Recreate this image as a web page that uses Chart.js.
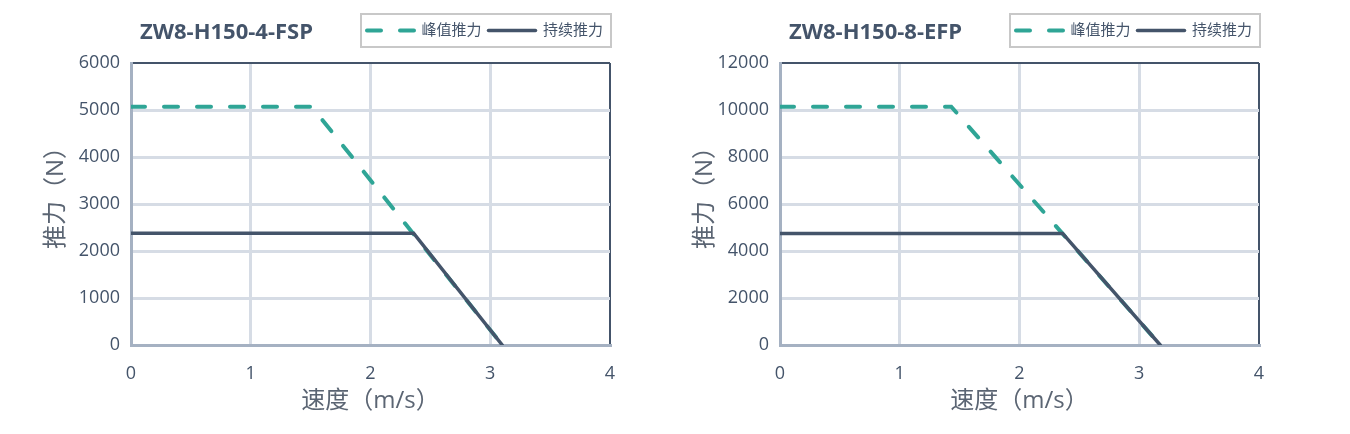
<!DOCTYPE html>
<html>
<head>
<meta charset="utf-8">
<script src="https://cdn.jsdelivr.net/npm/chart.js@4.4.1/dist/chart.umd.min.js"></script>
<style>
    body { margin: 0; background: #fff; }
    .panel { position: absolute; top: 0; width: 650px; height: 434px; }
    .panel canvas { position: absolute; left: 0; top: 0; }
    .title {
        position: absolute; left: 140px; top: 19px;
        font-family: 'Open Sans', 'Noto Sans CJK SC', sans-serif;
        font-weight: bold; font-size: 22px; line-height: 22px;
        color: #44546a; white-space: nowrap;
    }
</style>
</head>
<body>
<div class="panel" style="left:0px">
    <canvas id="chart1" width="650" height="434"></canvas>
    <div class="title">ZW8-H150-4-FSP</div>
</div>
<div class="panel" style="left:649px">
    <canvas id="chart2" width="650" height="434"></canvas>
    <div class="title">ZW8-H150-8-EFP</div>
</div>
<script>
// series names
const seriesNames = ['峰值推力', '持续推力'];

// ZW8-H150-4-FSP
const peakSpeed1 = [0, 1.51, 3.1];
const peakForce1 = [5070, 5070, 0];
const contSpeed1 = [0, 1.51, 2.36, 3.1];
const contForce1 = [2380, 2380, 2380, 0];
const yTicks1 = [0, 1000, 2000, 3000, 4000, 5000, 6000];

// ZW8-H150-8-EFP
const peakSpeed2 = [0, 1.43, 3.175];
const peakForce2 = [10140, 10140, 0];
const contSpeed2 = [0, 1.43, 2.36, 3.175];
const contForce2 = [4750, 4750, 4750, 0];
const yTicks2 = [0, 2000, 4000, 6000, 8000, 10000, 12000];

const xTicks = [0, 1, 2, 3, 4];

const fontFamily = "'Open Sans', 'Noto Sans CJK SC', sans-serif";
const tealColor = '#2fa596';
const darkColor = '#44546a';
const gridColor = '#d6dce5';
const axisColor = '#a5b1c2';

function toPoints(xs, ys) {
    return xs.map((x, i) => ({ x: x, y: ys[i] }));
}

// push the plot a bit further below the legend
const legendMargin = {
    id: 'legendMargin',
    beforeInit(chart) {
        const origFit = chart.legend.fit;
        chart.legend.fit = function fit() {
            origFit.bind(chart.legend)();
            this.height += 15;
        };
    }
};

// grey frame round the legend items
const legendFrame = {
    id: 'legendFrame',
    afterDraw(chart) {
        const boxes = chart.legend.legendHitBoxes;
        if (!boxes || !boxes.length) return;
        const first = boxes[0];
        const last = boxes[boxes.length - 1];
        const left = first.left - 6;
        const right = last.left + last.width + 8;
        const top = first.top - 9;
        const bottom = first.top + first.height + 9;
        const ctx = chart.ctx;
        ctx.save();
        ctx.strokeStyle = '#c8c8c8';
        ctx.lineWidth = 2;
        ctx.strokeRect(left, top, right - left, bottom - top);
        ctx.restore();
    }
};

function makeChart(canvasId, peakX, peakY, contX, contY, yTicks) {
    const yMax = yTicks[yTicks.length - 1];
    const yStep = yTicks[1] - yTicks[0];
    const xMax = xTicks[xTicks.length - 1];
    const ctx = document.getElementById(canvasId).getContext('2d');
    return new Chart(ctx, {
        type: 'scatter',
        data: {
            datasets: [{
                label: seriesNames[0],
                data: toPoints(peakX, peakY),
                showLine: true,
                borderColor: tealColor,
                backgroundColor: tealColor,
                borderWidth: 4,
                borderDash: [14, 19],
                borderCapStyle: 'round',
                pointRadius: 0,
                order: 1
            }, {
                label: seriesNames[1],
                data: toPoints(contX, contY),
                showLine: true,
                borderColor: darkColor,
                backgroundColor: darkColor,
                borderWidth: 3.5,
                borderCapStyle: 'round',
                pointRadius: 0,
                order: 0
            }]
        },
        options: {
            responsive: false,
            animation: false,
            layout: { padding: { top: 16, left: 38, right: 40, bottom: 18 } },
            plugins: {
                title: { display: false },
                tooltip: { enabled: false },
                legend: {
                    position: 'top',
                    align: 'end',
                    labels: {
                        usePointStyle: true,
                        pointStyle: 'line',
                        pointStyleWidth: 47,
                        padding: 7,
                        color: '#44546a',
                        font: { family: fontFamily, size: 15 },
                        sort: (a, b) => a.datasetIndex - b.datasetIndex,
                        generateLabels: (chart) => {
                            const items = Chart.defaults.plugins.legend.labels.generateLabels(chart);
                            items.forEach(item => {
                                const ds = chart.data.datasets[item.datasetIndex];
                                item.lineDash = ds.borderDash || [];
                                item.lineWidth = ds.borderWidth;
                                item.strokeStyle = ds.borderColor;
                                item.lineCap = ds.borderCapStyle;
                            });
                            return items;
                        }
                    }
                }
            },
            scales: {
                x: {
                    type: 'linear',
                    min: 0,
                    max: xMax,
                    ticks: {
                        stepSize: 1,
                        padding: 18,
                        color: '#44546a',
                        font: { family: fontFamily, size: 18 },
                        callback: (v) => String(v)
                    },
                    grid: {
                        drawTicks: false,
                        lineWidth: (c) => c.tick && c.tick.value === xMax ? 2 : 3,
                        color: (c) => {
                            if (!c.tick) return gridColor;
                            if (c.tick.value === xMax) return darkColor;
                            if (c.tick.value === 0) return axisColor;
                            return gridColor;
                        }
                    },
                    border: { color: axisColor, width: 3 },
                    title: {
                        display: true,
                        text: '速度（m/s）',
                        color: '#5b6573',
                        font: { family: fontFamily, size: 24 },
                        padding: { top: 4, bottom: 0 }
                    },
                    afterFit: (scale) => { scale.height = 71; }
                },
                y: {
                    min: 0,
                    max: yMax,
                    ticks: {
                        stepSize: yStep,
                        padding: 11,
                        color: '#44546a',
                        font: { family: fontFamily, size: 18 },
                        callback: (v) => String(v)
                    },
                    grid: {
                        drawTicks: false,
                        lineWidth: (c) => c.tick && c.tick.value === yMax ? 2 : 3,
                        color: (c) => {
                            if (!c.tick) return gridColor;
                            if (c.tick.value === yMax) return darkColor;
                            if (c.tick.value === 0) return axisColor;
                            return gridColor;
                        }
                    },
                    border: { color: axisColor, width: 3 },
                    title: {
                        display: true,
                        text: '　推力（N）',
                        color: '#5b6573',
                        font: { family: fontFamily, size: 24 },
                        padding: { top: 4, bottom: 0 }
                    },
                    afterFit: (scale) => { scale.width = 93; }
                }
            }
        },
        plugins: [legendMargin, legendFrame]
    });
}

makeChart('chart1', peakSpeed1, peakForce1, contSpeed1, contForce1, yTicks1);
makeChart('chart2', peakSpeed2, peakForce2, contSpeed2, contForce2, yTicks2);
</script>
</body>
</html>
